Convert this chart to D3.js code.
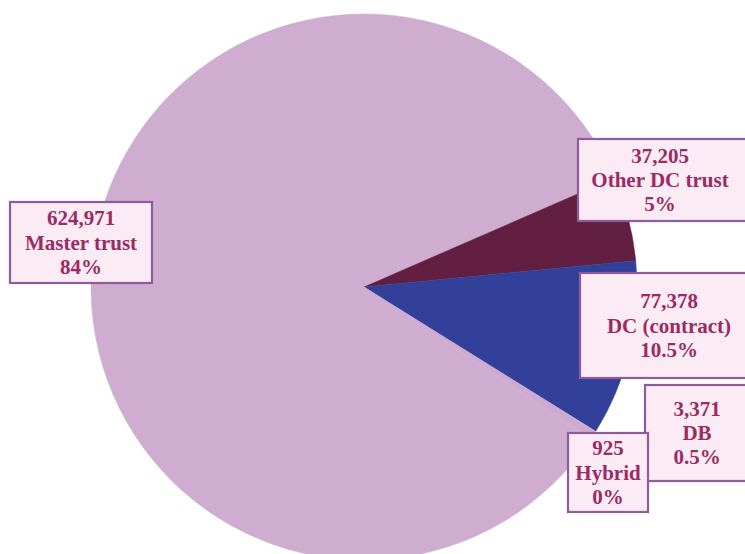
<!DOCTYPE html>
<html><head><meta charset="utf-8">
<script src="https://cdn.jsdelivr.net/npm/d3@7"></script>
<style>
html,body{margin:0;padding:0;background:#fff;}
svg{display:block;}
</style></head>
<body>
<svg id="chart" width="745" height="554"></svg>
<script>
// ---- data ----
const categories = ["Master trust", "Other DC trust", "DC (contract)", "DB", "Hybrid"];
const values = [624971, 37205, 77378, 3371, 925];
const percentLabels = ["84%", "5%", "10.5%", "0.5%", "0%"];
const colors = ["#CFADD1", "#621F42", "#33409A", "#CDAACF", "#CEABD0"];

// ---- layout ----
const W = 745, H = 554;
const cx = 364, cy = 287, R = 273;
const startDeg = 124.0;
// label boxes [x, y, w, h] per category
const boxes = [
  [10, 202, 142, 81],
  [578, 139, 172, 82],
  [580, 273, 170, 105],
  [645, 385, 105, 96],
  [568, 433, 80, 79]
];
const textX = [81, 660, 669, 697, 608];

const svg = d3.select("#chart");
const g = svg.append("g").attr("transform", `translate(${cx},${cy})`);

const pie = d3.pie().sort(null).value(d => d)
  .startAngle(startDeg * Math.PI / 180)
  .endAngle((startDeg + 360) * Math.PI / 180);
const arc = d3.arc().innerRadius(0).outerRadius(R);
const arcs = pie(values);

g.selectAll("path").data(arcs).join("path")
  .attr("d", arc)
  .attr("fill", (d, i) => colors[i])
  .attr("stroke", (d, i) => colors[i])
  .attr("stroke-width", 0.5);

const fmt = d3.format(",");
const lg = svg.append("g");
categories.forEach((c, i) => {
  const [x, y, w, h] = boxes[i];
  const bg = lg.append("g");
  bg.append("rect").attr("x", x).attr("y", y).attr("width", w).attr("height", h)
    .attr("fill", "#FAEBF4").attr("stroke", "#8E5B9B").attr("stroke-width", 2.2);
  const lines = [fmt(values[i]), c, percentLabels[i]];
  const lineH = 24.3;
  const midY = y + h / 2;
  lines.forEach((t, k) => {
    bg.append("text")
      .attr("x", textX[i])
      .attr("y", midY + (k - 1) * lineH + 7)
      .attr("text-anchor", "middle")
      .attr("font-family", "'Liberation Serif', 'DejaVu Serif', serif")
      .attr("font-weight", "bold")
      .attr("font-size", 21)
      .attr("fill", "#9C2A63")
      .text(t);
  });
});
</script>
</body></html>
